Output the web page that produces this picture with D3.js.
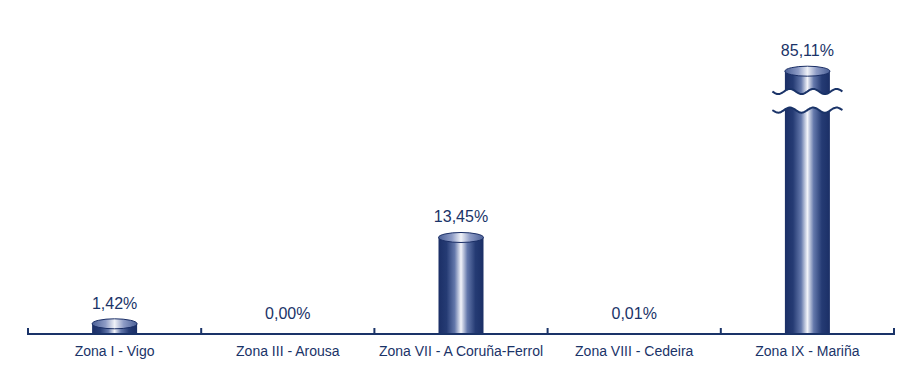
<!DOCTYPE html>
<html>
<head>
<meta charset="utf-8">
<script src="https://cdn.jsdelivr.net/npm/d3@7"></script>
<style>
  body { margin: 0; background: #fff; }
  svg { display: block; }
</style>
</head>
<body>
<svg id="chart" width="904" height="390"></svg>
<script>
const categories = [
  'Zona I - Vigo',
  'Zona III - Arousa',
  'Zona VII - A Coruña-Ferrol',
  'Zona VIII - Cedeira',
  'Zona IX - Mariña',
];
const values = [1.42, 0.0, 13.45, 0.01, 85.11];
// value where the tall bar gets cut
const breakValue = 32.5;

const navy = '#1a3368';
const margin = { left: 28, right: 10, bottom: 56 };
const width = 904, height = 390;
const barWidth = 45;
const ry = 5;

const locale = d3.formatLocale({ decimal: ',', thousands: '.', grouping: [3], currency: ['', '€'] });
const fmt = v => locale.format('.2f')(v) + '%';

const svg = d3.select('#chart');
const defs = svg.append('defs');

const bodyGrad = defs.append('linearGradient').attr('id', 'bodyGrad');
[[0, '#1b2f66'], [0.18, '#253b74'], [0.36, '#6478ab'], [0.5, '#f4f5fa'], [0.64, '#6478ab'], [0.82, '#253b74'], [1, '#1b2f66']]
  .forEach(s => bodyGrad.append('stop').attr('offset', s[0]).attr('stop-color', s[1]));

const topGrad = defs.append('linearGradient').attr('id', 'topGrad');
[[0, '#4a5f96'], [0.3, '#8e9cc6'], [0.5, '#f0f2f8'], [0.7, '#8e9cc6'], [1, '#4a5f96']]
  .forEach(s => topGrad.append('stop').attr('offset', s[0]).attr('stop-color', s[1]));

const x = d3.scaleBand()
  .domain(categories)
  .range([margin.left, width - margin.right]);

const y0 = height - margin.bottom;
// piecewise scale: linear up to the break, compressed above it
const y = d3.scaleLinear()
  .domain([0, breakValue, 85.11])
  .range([y0, 100.8, 71.2]);

const bars = svg.append('g')
  .selectAll('g')
  .data(categories.map((c, i) => ({ cat: c, value: values[i] })))
  .enter()
  .append('g');

bars.filter(d => d.value > 0)
  .append('rect')
  .attr('x', d => x(d.cat) + x.bandwidth() / 2 - barWidth / 2)
  .attr('y', d => y(d.value))
  .attr('width', barWidth)
  .attr('height', d => y0 - y(d.value))
  .style('fill', 'url(#bodyGrad)');

bars.filter(d => d.value > 0)
  .append('ellipse')
  .attr('cx', d => x(d.cat) + x.bandwidth() / 2)
  .attr('cy', d => y(d.value))
  .attr('rx', barWidth / 2)
  .attr('ry', d => Math.min(ry, y0 - y(d.value)))
  .style('fill', 'url(#topGrad)')
  .style('stroke', d => (y0 - y(d.value) < 1 ? '#e8ebf4' : '#1b2f66'))
  .style('stroke-width', 1);

bars.append('text')
  .attr('x', d => x(d.cat) + x.bandwidth() / 2)
  .attr('y', d => y(d.value) - 15)
  .attr('text-anchor', 'middle')
  .style('font-family', '"Liberation Sans", Arial, sans-serif')
  .style('font-size', '16px')
  .style('fill', navy)
  .text(d => fmt(d.value));

// break marks on the bars that exceed the break value
const yb = y(breakValue);
const wave = (cx, cy) => {
  const pts = d3.range(-35, 35.5, 1).map(t => [cx + t, cy - 2.6 * Math.sin((t / 70) * Math.PI * 6)]);
  return pts;
};
bars.filter(d => d.value > breakValue).each(function (d) {
  const g = d3.select(this);
  const cx = x(d.cat) + x.bandwidth() / 2;
  const top = wave(cx, yb - 9.3);
  const bot = wave(cx, yb + 9.3);
  g.append('path')
    .attr('d', d3.line()(top.concat(bot.slice().reverse())) + 'Z')
    .style('fill', '#fff');
  [top, bot].forEach(p => g.append('path')
    .attr('d', d3.line().curve(d3.curveBasis)(p))
    .style('fill', 'none')
    .style('stroke', navy)
    .style('stroke-width', 2));
});

// category axis
const xAxis = d3.axisBottom(x).tickSize(0).tickPadding(12);
const axisG = svg.append('g')
  .attr('transform', `translate(0,${y0})`)
  .call(xAxis);
axisG.select('.domain').remove();
axisG.selectAll('text')
  .style('font-family', '"Liberation Sans Narrow", "Arial Narrow", "Liberation Sans", sans-serif')
  .style('font-size', '14px')
  .style('fill', navy);

axisG.append('line')
  .attr('x1', x.range()[0])
  .attr('x2', x.range()[1])
  .style('stroke', navy)
  .style('stroke-width', 2);

axisG.selectAll('.sep')
  .data(categories.map(c => x(c)).concat([x.range()[1]]))
  .enter()
  .append('line')
  .attr('class', 'sep')
  .attr('x1', d => d)
  .attr('x2', d => d)
  .attr('y1', 1)
  .attr('y2', -6)
  .style('stroke', navy)
  .style('stroke-width', 2);
</script>
</body>
</html>
